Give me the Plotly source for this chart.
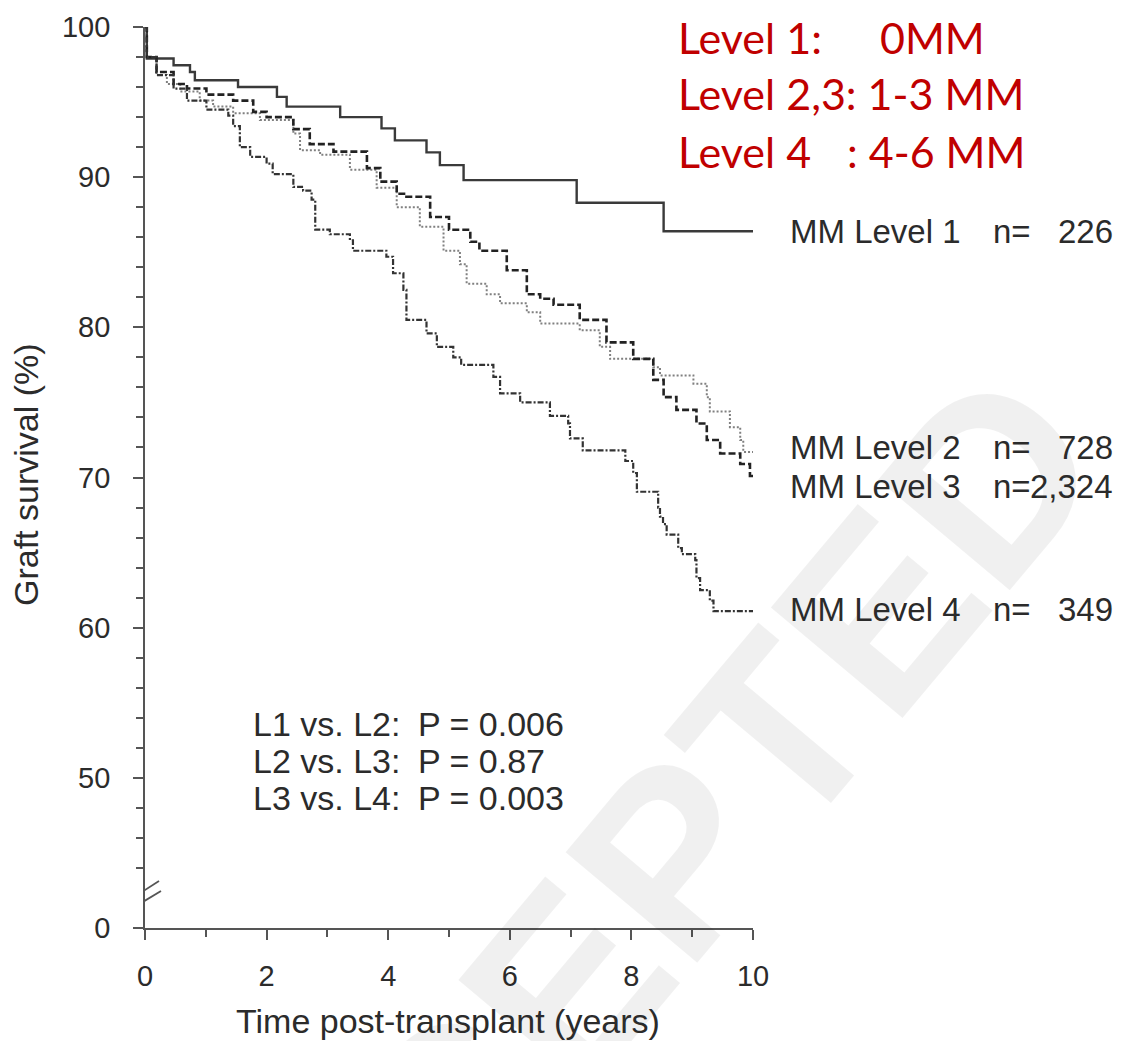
import plotly.graph_objects as go

# ---------------- data ----------------
l1_t = [0, 0.03, 0.47, 0.74, 0.82, 1.53, 2.17, 2.33, 3.21, 3.89, 4.11, 4.63, 4.85, 5.24, 7.10, 8.53, 10.0]
l1_v = [100, 97.9, 97.45, 97.0, 96.45, 96.0, 95.35, 94.7, 94.0, 93.25, 92.45, 91.65, 90.8, 89.8, 88.3, 86.4, 86.4]

l2_t = [0, 0.03, 0.19, 0.36, 0.58, 0.9, 1.12, 1.45, 1.89, 2.44, 2.55, 2.88, 3.37, 3.81, 4.14, 4.52, 4.91,
        5.18, 5.29, 5.62, 5.84, 6.28, 6.5, 7.15, 7.48, 7.65, 8.36, 8.47, 9.02, 9.24, 9.29, 9.62, 9.79, 9.84, 10.0]
l2_v = [100, 98, 96.8, 96.2, 95.7, 95.1, 94.7, 94.25, 93.8, 92.9, 91.8, 91.5, 90.5, 89.3, 88.0, 86.7, 85.1,
        84.2, 82.9, 82.2, 81.6, 81.0, 80.25, 79.8, 78.7, 77.9, 77.35, 76.8, 76.25, 75.35, 74.4, 73.35, 72.5, 71.7, 71.7]

l3_t = [0, 0.03, 0.19, 0.47, 0.69, 1.01, 1.45, 1.78, 2.0, 2.44, 2.71, 3.10, 3.65, 3.87, 4.14, 4.3, 4.69, 5.0,
        5.35, 5.5, 5.95, 6.28, 6.5, 6.72, 7.15, 7.59, 8.03, 8.36, 8.53, 8.74, 9.07, 9.24, 9.46, 9.79, 9.95, 10.0]
l3_v = [100, 98, 97.0, 96.2, 95.9, 95.5, 95.1, 94.35, 94.0, 93.2, 92.2, 91.7, 90.6, 89.7, 88.9, 88.7, 87.35, 86.5,
        85.7, 85.1, 83.8, 82.2, 81.9, 81.5, 80.5, 79.0, 77.9, 76.5, 75.35, 74.5, 73.6, 72.5, 71.6, 70.9, 70.1, 70.1]

l4_t = [0, 0.03, 0.19, 0.47, 0.69, 1.01, 1.37, 1.45, 1.56, 1.73, 2.0, 2.1, 2.44, 2.6, 2.74, 2.8, 3.04, 3.37,
        3.42, 3.97, 4.08, 4.25, 4.30, 4.63, 4.80, 5.07, 5.2, 5.73, 5.84, 6.17, 6.66, 6.96, 6.99, 7.2, 7.9, 8.03,
        8.09, 8.44, 8.47, 8.52, 8.58, 8.77, 8.83, 9.05, 9.07, 9.13, 9.29, 9.35, 10.0]
l4_v = [100, 98, 96.8, 95.9, 95.1, 94.5, 94.1, 93.4, 92.0, 91.35, 90.9, 90.2, 89.35, 89.1, 88.5, 86.5, 86.2, 85.8,
        85.1, 84.7, 83.6, 82.5, 80.5, 79.6, 78.7, 78.0, 77.5, 76.7, 75.6, 75.0, 74.1, 73.6, 72.6, 71.8, 71.1, 70.3,
        69.05, 68.0, 67.4, 66.9, 66.2, 65.3, 64.9, 64.5, 63.3, 62.5, 61.8, 61.1, 61.1]

y_tick_vals = [40, 50, 60, 70, 80, 90, 100]
y_tick_text = ["0", "50", "60", "70", "80", "90", "100"]
x_tick_vals = [0, 2, 4, 6, 8, 10]

group_labels = ["MM Level 1", "MM Level 2", "MM Level 3", "MM Level 4"]
group_n = ["226", "728", "2,324", "349"]

pval_labels = ["L1 vs. L2:", "L2 vs. L3:", "L3 vs. L4:"]
pval_values = ["P = 0.006", "P = 0.87", "P = 0.003"]

# ---------------- layout geometry ----------------
W, H = 1145, 1041
ML, MR, MT, MB = 145, 392, 27, 113
PW = W - ML - MR
PH = H - MT - MB


def px(x):
    return (x - ML) / PW


def py(y):
    return (H - MB - y) / PH


TXT = "#2b2b2b"
FONT = "Liberation Sans, Arial, Helvetica, sans-serif"

fig = go.Figure()

styles = [
    dict(color="#3a3a3a", width=2.4, dash="solid"),
    dict(color="#808080", width=2.0, dash="2px,2px"),
    dict(color="#222222", width=2.6, dash="7px,3px"),
    dict(color="#333333", width=2.2, dash="6px,2px,2px,2px"),
]
for (t, v), st, name in zip([(l1_t, l1_v), (l2_t, l2_v), (l3_t, l3_v), (l4_t, l4_v)], styles, group_labels):
    fig.add_trace(go.Scatter(x=t, y=v, mode="lines", line=dict(shape="hv", **st), name=name,
                             showlegend=False, hoverinfo="skip"))

annotations = []
# watermark
annotations.append(dict(text="<b>ACCEPTED</b>", xref="paper", yref="paper", x=px(606), y=py(936),
                        xanchor="center", yanchor="middle", showarrow=False, textangle=-50,
                        font=dict(family=FONT, size=250, color="rgba(0,0,0,0.06)")))

# right-hand group labels
row_y = [232, 448, 486, 610]
for lab, n, yy in zip(group_labels, group_n, row_y):
    annotations.append(dict(text=lab, xref="paper", yref="paper", x=px(788), y=py(yy), xanchor="left",
                            yanchor="middle", showarrow=False, font=dict(family=FONT, size=33, color=TXT)))
    annotations.append(dict(text="n=", xref="paper", yref="paper", x=px(991), y=py(yy), xanchor="left",
                            yanchor="middle", showarrow=False, font=dict(family=FONT, size=33, color=TXT)))
    annotations.append(dict(text=n, xref="paper", yref="paper", x=px(1115), y=py(yy), xanchor="right",
                            yanchor="middle", showarrow=False, font=dict(family=FONT, size=33, color=TXT)))

# p-values
p_y = [724, 761, 798]
for lab, pv, yy in zip(pval_labels, pval_values, p_y):
    annotations.append(dict(text=lab, xref="paper", yref="paper", x=px(251), y=py(yy), xanchor="left",
                            yanchor="middle", showarrow=False, font=dict(family=FONT, size=34, color=TXT)))
    annotations.append(dict(text=pv, xref="paper", yref="paper", x=px(416), y=py(yy), xanchor="left",
                            yanchor="middle", showarrow=False, font=dict(family=FONT, size=34, color=TXT)))

# red legend text
RED = "#c00000"
RFONT = "Lato, Carlito, Calibri, sans-serif"
red_rows = [("Level 1:", 676, 37), ("0MM", 878, 37), ("Level 2,3: 1-3 MM", 676, 94),
            ("Level 4", 676, 151), (": 4-6 MM", 845, 151)]
for txt, xx, yy in red_rows:
    annotations.append(dict(text=txt, xref="paper", yref="paper", x=px(xx), y=py(yy), xanchor="left",
                            yanchor="middle", showarrow=False, font=dict(family=RFONT, size=43, color=RED)))

# axis titles
annotations.append(dict(text="Graft survival (%)", xref="paper", yref="paper", x=px(26), y=py(475),
                        xanchor="center", yanchor="middle", textangle=-90, showarrow=False,
                        font=dict(family=FONT, size=34, color=TXT)))
annotations.append(dict(text="Time post-transplant (years)", xref="paper", yref="paper", x=px(448), y=py(1021),
                        xanchor="center", yanchor="middle", showarrow=False,
                        font=dict(family=FONT, size=34, color=TXT)))

# axis break marks
shapes = []
for (x0, y0, x1, y1) in [(-17, -3, 14, 17), (-17, -13, 16, 7)]:
    shapes.append(dict(type="line", xref="x", yref="y", xsizemode="pixel", ysizemode="pixel",
                       xanchor=0, yanchor=42, x0=x0, y0=y0, x1=x1, y1=y1,
                       line=dict(color="#555555", width=1.8)))

axis_common = dict(showgrid=False, zeroline=False, showline=True, linecolor="#555555", linewidth=1.8,
                   ticks="outside", ticklen=10, tickwidth=1.8, tickcolor="#555555",
                   tickfont=dict(family=FONT, size=29, color=TXT))

fig.update_layout(
    width=W, height=H,
    margin=dict(l=ML, r=MR, t=MT, b=MB, pad=0),
    paper_bgcolor="white", plot_bgcolor="white",
    showlegend=False,
    xaxis=dict(range=[0, 10], tickvals=x_tick_vals, ticklabelstandoff=11,
               minor=dict(dtick=1, tick0=0, ticks="outside", ticklen=7, tickwidth=1.5, tickcolor="#555555"),
               **axis_common),
    yaxis=dict(range=[40, 100], tickvals=y_tick_vals, ticktext=y_tick_text, ticklabelstandoff=17,
               minor=dict(tickvals=[44, 46, 48, 52, 54, 56, 58, 62, 64, 66, 68, 72, 74, 76, 78,
                                    82, 84, 86, 88, 92, 94, 96, 98],
                          ticks="outside", ticklen=7, tickwidth=1.5, tickcolor="#555555"),
               **axis_common),
    annotations=annotations,
    shapes=shapes,
)

fig.write_html("out.html")
